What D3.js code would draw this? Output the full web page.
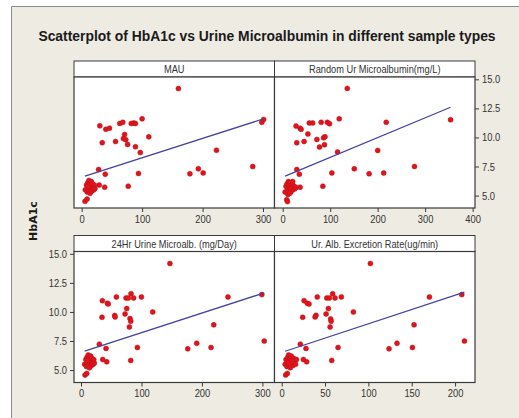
<!DOCTYPE html>
<html><head><meta charset="utf-8">
<script src="https://cdn.jsdelivr.net/npm/d3@7"></script>
<style>
html,body{margin:0;padding:0;background:#fff;}
svg{display:block;}
</style></head>
<body>
<svg id="chart" width="519" height="418"></svg>
<script>
// ---------- data ----------
const titleText = "Scatterplot of HbA1c vs Urine Microalbumin in different sample types";
const yLabel = "HbA1c";
const panelNames = ["MAU", "Random Ur Microalbumin(mg/L)", "24Hr Urine Microalb. (mg/Day)", "Ur. Alb. Excretion Rate(ug/min)"];
const yTicks = [5.0, 7.5, 10.0, 12.5, 15.0];
const mauTicks = [0, 100, 200, 300];
const randTicks = [0, 100, 200, 300, 400];
const dayTicks = [0, 100, 200, 300];
const rateTicks = [0, 50, 100, 150, 200];

const mauX = [160,301,298,30,40,46,63,68,82,86,89,100,71,69,73,76,111,56,34,89,97,223,283,193,201,179,94,28,39,77,38,29,5.5,9,
  6,8,9,10,11,12,12,13,14,14,15,16,16,17,18,19,20,21,22,10];
const mauY = [14.2,11.55,11.3,11.0,10.7,10.8,11.2,11.3,11.2,11.25,11.2,11.6,10.25,9.9,9.8,9.4,10.05,9.65,9.55,9.2,8.7,8.9,7.5,7.3,6.95,6.87,6.9,7.24,6.84,5.8,5.72,5.9,4.5,4.7,
  5.5,5.9,5.3,6.1,5.7,6.3,5.4,5.9,6.0,5.2,5.6,6.2,5.8,5.4,6.0,5.7,5.5,5.9,5.6,5.8];

const randX = [136,353.5,28,36.6,38.7,53,56,63,81,94,98.6,119,218,72,86,89,77.5,88,29.6,45,115.5,200,277.5,150.7,103.5,182,212.7,29.6,35,84.5,36.6,8.5,10,
  5,7,9,10,12,13,14,15,16,17,18,19,20,22,24,26,28,11,15,21];
const randY = [14.22,11.52,10.98,10.8,10.7,10.3,11.24,11.24,11.3,11.3,11.18,11.6,11.3,9.83,9.97,10.06,9.17,9.37,9.54,9.65,8.74,8.88,7.5,7.3,6.95,6.87,6.95,7.24,6.84,5.8,5.72,4.65,4.48,
  5.3,5.8,6.0,5.5,6.2,5.4,5.9,6.1,5.6,5.3,5.9,5.7,6.0,5.5,5.8,5.6,5.7,5.1,5.2,6.2];

const dayX = [147,299,303,243,219.5,191.4,176.5,215,93.2,35.3,43.6,45,58.5,74.5,78.3,82.7,87,99.8,118.6,75.6,72.8,55.7,56.3,81,82.2,80,34.7,30.3,41.4,82.2,35.9,42.5,6.6,9.4,
  6,8,9,10,11,12,12,13,14,14,15,16,16,17,18,19,20,21,22,10];
const dayY = [14.17,11.49,7.49,11.29,8.89,7.31,6.83,6.94,6.94,10.97,10.74,10.69,11.29,11.2,11.2,11.57,11.2,11.29,10.0,10.29,9.83,9.69,9.57,9.43,9.2,8.71,9.54,7.23,6.86,5.83,5.91,5.71,4.57,4.71,
  5.5,5.9,5.3,6.1,5.7,6.3,5.4,5.9,6.0,5.2,5.6,6.2,5.8,5.4,6.0,5.7,5.5,5.9,5.6,5.8];

const rateX = [102.3,207.7,210.8,170.4,152.7,133,123.8,150.8,65,25.8,29.6,31.5,41,52,55,58.8,61.5,68.8,82.7,53.8,51.2,39.6,38.5,56.5,57,55.8,24.2,21.5,28,57.7,25,28.8,4.6,6.5,
  4,5,6,7,7,8,9,9,10,10,11,11,12,13,14,15,16,17,8,12];
const rateY = [14.17,11.49,7.49,11.29,8.89,7.31,6.83,6.94,6.94,10.97,10.74,10.69,11.29,11.2,11.2,11.57,11.2,11.29,10.0,10.29,9.83,9.71,9.57,9.4,9.2,8.71,9.54,7.23,6.86,5.83,5.91,5.71,4.57,4.71,
  5.5,5.9,5.3,6.1,5.7,6.3,5.4,5.9,6.0,5.2,5.6,6.2,5.8,5.4,6.0,5.7,5.5,5.9,5.6,5.8];

// fitted regression lines
const fitIntercept = [6.58, 6.58, 6.52, 6.52];
const fitSlope = [0.01668, 0.01702, 0.0169, 0.0246];

// ---------- drawing ----------
const svg = d3.select("#chart");
const BG = "#EEEBE2", AX = "#3a3a3a", TXT = "#333";

svg.append("rect").attr("x", 0).attr("y", 0).attr("width", 519).attr("height", 418).attr("fill", "#fff");
svg.append("rect").attr("x", 11).attr("y", 6).attr("width", 508).attr("height", 412).attr("fill", BG);
svg.append("path").attr("d", "M11.5,418 L11.5,6.5 L519,6.5").attr("fill", "none").attr("stroke", "#8a8a8a").attr("stroke-width", 1);

const title = svg.append("text").attr("x", 267).attr("y", 41).attr("text-anchor", "middle")
  .attr("font-family", "'Liberation Sans', Arial, sans-serif").attr("font-weight", "bold").attr("font-size", 14)
  .attr("fill", "#1a1a1a").text(titleText);
const tw = title.node().getComputedTextLength();
if (tw > 458) title.attr("font-size", 14 * 458 / tw);

svg.append("text").attr("transform", "translate(37,221) rotate(-90)").attr("text-anchor", "middle")
  .attr("font-family", "'DejaVu Sans', sans-serif").attr("font-weight", "bold").attr("font-size", 11)
  .attr("fill", "#1a1a1a").text(yLabel);

const colL = [74, 274.5], colR = [274.5, 475];
const rowT = {head: 61, top: 77, bottom: 208};
const rowB = {head: 235.5, top: 251.5, bottom: 382.5};

const panels = [
  {name: panelNames[0], xs: mauX, ys: mauY, ticks: mauTicks, dom: [-12.7, 319], col: colL, row: rowT, yAxis: null, fit: 0},
  {name: panelNames[1], xs: randX, ys: randY, ticks: randTicks, dom: [-17.3, 405], col: colR, row: rowT, yAxis: "right", fit: 1},
  {name: panelNames[2], xs: dayX, ys: dayY, ticks: dayTicks, dom: [-11.6, 320], col: colL, row: rowB, yAxis: "left", fit: 2},
  {name: panelNames[3], xs: rateX, ys: rateY, ticks: rateTicks, dom: [-8.3, 223], col: colR, row: rowB, yAxis: null, fit: 3}
];

function condense(sel, f) {
  sel.each(function() {
    const w = this.getComputedTextLength();
    d3.select(this).attr("textLength", w * f).attr("lengthAdjust", "spacingAndGlyphs");
  });
}

panels.forEach(p => {
  const g = svg.append("g");
  const x = d3.scaleLinear().domain(p.dom).range(p.col);
  const y = d3.scaleLinear().domain([3.93, 15.2]).range([p.row.bottom, p.row.top]);

  g.append("rect").attr("x", p.col[0]).attr("y", p.row.head).attr("width", p.col[1] - p.col[0])
    .attr("height", p.row.top - p.row.head).attr("fill", "#fff").attr("stroke", AX).attr("stroke-width", 1);
  const ht = g.append("text").attr("x", (p.col[0] + p.col[1]) / 2).attr("y", p.row.top - 4)
    .attr("text-anchor", "middle").attr("font-family", "'Liberation Sans', Arial, sans-serif")
    .attr("font-size", 11).attr("fill", TXT).text(p.name);
  condense(ht, 0.84);

  g.append("rect").attr("x", p.col[0]).attr("y", p.row.top).attr("width", p.col[1] - p.col[0])
    .attr("height", p.row.bottom - p.row.top).attr("fill", "#fff").attr("stroke", AX).attr("stroke-width", 1.2);

  const xa = g.append("g").attr("transform", `translate(0,${p.row.bottom})`)
    .call(d3.axisBottom(x).tickValues(p.ticks).tickSize(4).tickPadding(3).tickSizeOuter(0).tickFormat(d3.format("d")));
  xa.select(".domain").remove();
  xa.selectAll("line").attr("stroke", AX);
  xa.selectAll("text").attr("font-family", "'Liberation Sans', Arial, sans-serif").attr("font-size", 11).attr("fill", TXT);
  condense(xa.selectAll("text"), 0.85);

  if (p.yAxis) {
    const ax = p.yAxis === "right" ? d3.axisRight(y) : d3.axisLeft(y);
    const ya = g.append("g").attr("transform", `translate(${p.yAxis === "right" ? p.col[1] : p.col[0]},0)`)
      .call(ax.tickValues(yTicks).tickSize(4).tickPadding(3).tickSizeOuter(0).tickFormat(d3.format(".1f")));
    ya.select(".domain").remove();
    ya.selectAll("line").attr("stroke", AX);
    ya.selectAll("text").attr("font-family", "'Liberation Sans', Arial, sans-serif").attr("font-size", 11).attr("fill", TXT);
    condense(ya.selectAll("text"), 0.85);
  }

  const pts = p.xs.map((v, i) => ({x: v, y: p.ys[i]}));
  g.append("g").selectAll("circle").data(pts).join("circle")
    .attr("cx", d => x(d.x)).attr("cy", d => y(d.y)).attr("r", 2.5)
    .attr("fill", "#E0141B").attr("stroke", "#C0101A").attr("stroke-width", 0.5);

  const [x0, x1] = d3.extent(p.xs);
  const b0 = fitIntercept[p.fit], b1 = fitSlope[p.fit];
  g.append("line").attr("x1", x(x0)).attr("y1", y(b0 + b1 * x0)).attr("x2", x(x1)).attr("y2", y(b0 + b1 * x1))
    .attr("stroke", "#4444A0").attr("stroke-width", 1.3);
});
</script>
</body></html>
